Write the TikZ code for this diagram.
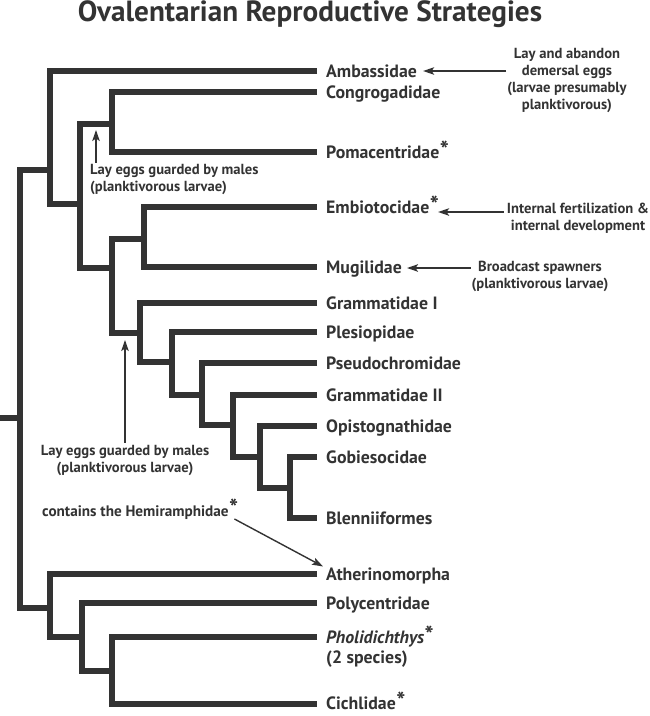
\documentclass[tikz,border=0pt]{standalone}
\usepackage{fontspec}
\setmainfont{PT Sans}
\usetikzlibrary{arrows.meta,calc}
\definecolor{ink}{HTML}{333333}
\newcommand{\myast}{\kern0.5pt\smash{\raisebox{0pt}{\fontsize{24}{24}\selectfont *}}}
\begin{document}
\begin{tikzpicture}[x=1pt,y=-1pt,
  branch/.style={draw=ink, line width=6.5pt, line cap=butt, line join=miter},
  taxon/.style={anchor=base west, inner sep=0pt, text=ink, font=\fontsize{17.8}{20}\selectfont\bfseries},
  note/.style={align=center, inner sep=0pt, text=ink, font=\fontsize{14.6}{17}\selectfont\bfseries},
  arr/.style={draw=ink, line width=1.4pt, -{Stealth[length=11pt,width=7.5pt,inset=2.5pt]}}]
\fill[white] (0,0) rectangle (649,716);
\useasboundingbox (0,0) rectangle (649,716);
% title
\node[anchor=base, inner sep=0pt, text=ink, font=\fontsize{29.2}{32}\selectfont\bfseries] (title) at (310,21) {Ovalentarian Reproductive Strategies};
% tips
\coordinate (tAmb) at (317,71);
\coordinate (tCong) at (317,92);
\coordinate (tPom) at (317,152);
\coordinate (tEmb) at (317,207);
\coordinate (tMug) at (317,267);
\coordinate (tGI) at (317,303);
\coordinate (tPles) at (317,332);
\coordinate (tPseu) at (317,363);
\coordinate (tGII) at (317,395);
\coordinate (tOpis) at (317,426);
\coordinate (tGob) at (317,457);
\coordinate (tBlen) at (317,518);
\coordinate (tAth) at (317,574);
\coordinate (tPoly) at (317,603);
\coordinate (tPhol) at (317,637);
\coordinate (tCich) at (317,704);
% internal nodes
\coordinate (r0) at (0,418);
\coordinate (root) at (20,418);
\coordinate (nA) at (50,170);
\coordinate (nB) at (80,204);
\coordinate (nC) at (112,124);
\coordinate (nD) at (112,268);
\coordinate (nE) at (144,239);
\coordinate (nF) at (140,333);
\coordinate (nG) at (172,362);
\coordinate (nH) at (202,395);
\coordinate (nI) at (233,425);
\coordinate (nJ) at (260,457);
\coordinate (nK) at (290,488);
\coordinate (nL) at (50,608);
\coordinate (nM) at (82,637);
\coordinate (nN) at (112,671);
% branches
\draw[branch] (r0) -- (root);
\draw[branch] (nA) -| (root) |- (nL);
\draw[branch] (tAmb) -| (nA) |- (nB);
\draw[branch] (nC) -| (nB) |- (nD);
\draw[branch] (tCong) -| (nC) |- (tPom);
\draw[branch] (nE) -| (nD) |- (nF);
\draw[branch] (tEmb) -| (nE) |- (tMug);
\draw[branch] (tGI) -| (nF) |- (nG);
\draw[branch] (tPles) -| (nG) |- (nH);
\draw[branch] (tPseu) -| (nH) |- (nI);
\draw[branch] (tGII) -| (nI) |- (nJ);
\draw[branch] (tOpis) -| (nJ) |- (nK);
\draw[branch] (tGob) -| (nK) |- (tBlen);
\draw[branch] (tAth) -| (nL) |- (nM);
\draw[branch] (tPoly) -| (nM) |- (nN);
\draw[branch] (tPhol) -| (nN) |- (tCich);
% labels
\node[taxon] (amb) at (326,77) {Ambassidae};
\node[taxon] (cong) at (326,98) {Congrogadidae};
\node[taxon] (pom) at (326,158) {Pomacentridae\myast};
\node[taxon] (emb) at (326,213) {Embiotocidae\myast};
\node[taxon] (mug) at (326,273) {Mugilidae};
\node[taxon] (gI) at (326,309) {Grammatidae I};
\node[taxon] (ples) at (326,338) {Plesiopidae};
\node[taxon] (pseu) at (326,369) {Pseudochromidae};
\node[taxon] (gII) at (326,401) {Grammatidae II};
\node[taxon] (opis) at (326,432) {Opistognathidae};
\node[taxon] (gob) at (326,463) {Gobiesocidae};
\node[taxon] (blen) at (326,524) {Blenniiformes};
\node[taxon] (ath) at (326,580) {Atherinomorpha};
\node[taxon] (poly) at (326,609) {Polycentridae};
\node[taxon] (phol) at (326,643) {\itshape Pholidichthys\upshape\myast};
\node[taxon] (phol2) at (326,663) {(2 species)};
\node[taxon] (cich) at (326,709) {Cichlidae\myast};
% notes
\node[note] (n1) at (567,80) {Lay and abandon\\demersal eggs\\(larvae presumably\\planktivorous)};
\node[note] (n2) at (578,218) {Internal fertilization \&\\internal development};
\node[note] (n3) at (540,276) {Broadcast spawners\\(planktivorous larvae)};
\node[note, align=left, anchor=west] (n4) at (90,179) {Lay eggs guarded by males\\(planktivorous larvae)};
\node[note] (n5) at (125,460) {Lay eggs guarded by males\\(planktivorous larvae)};
\node[note, anchor=west, font=\fontsize{15.2}{17}\selectfont\bfseries] (n6) at (42,513) {contains the Hemiramphidae\myast};
% arrows
\draw[arr] ($(n1.west |- tAmb)+(-1,0)$) -- ($(amb.east |- tAmb)+(6,0)$);
\draw[arr] ($(n2.west)+(-3,-6)$) -- ($(emb.east |- n2.west)+(-1,-6)$);
\draw[arr] ($(n3.west |- tMug)+(-1,1)$) -- ($(mug.east |- tMug)+(5,1)$);
\draw[arr] ($(n4.north west)+(6,-1)$) -- ($(n4.north west |- nC)+(6,6)$);
\draw[arr] ($(n5.north)+(0,-2)$) -- ($(n5.north |- nF)+(0,7)$);
\draw[arr] ($(n6.east)+(-4,6)$) -- ($(ath.west)+(-3,-9)$);
\end{tikzpicture}
\end{document}
